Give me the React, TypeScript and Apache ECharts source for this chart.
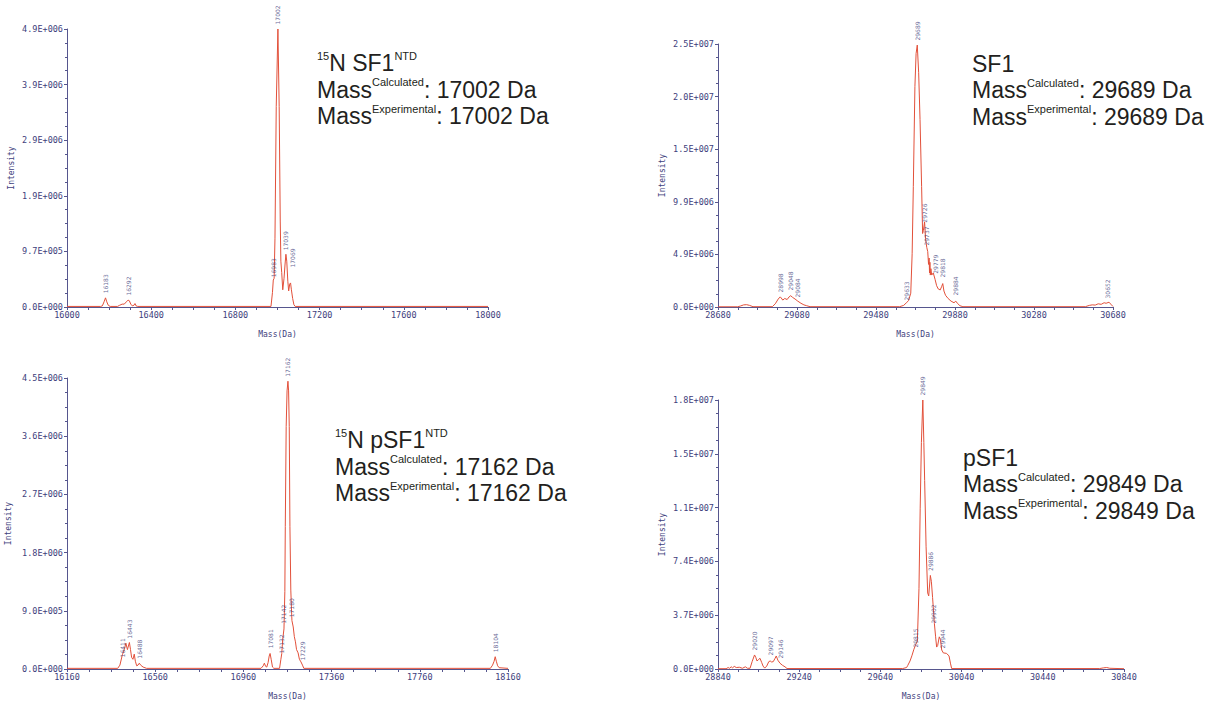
import React, { useEffect, useRef } from 'react';
import * as echarts from 'echarts';

// ---------- Panel 1: 15N SF1 NTD ----------
const p1Mass = [16000, 16160, 16168, 16176, 16183, 16189, 16196, 16205, 16240, 16250, 16262, 16272, 16282, 16290, 16296, 16303, 16310, 16318, 16323, 16328, 16336, 16969, 16976, 16980, 16984, 16988, 16994, 17002, 17008, 17013, 17016, 17020, 17025, 17031, 17036, 17040, 17044, 17049, 17053, 17058, 17062, 17066, 17072, 17078, 17084, 18000];
const p1IntM = [0.01, 0.01, 0.02, 0.09, 0.16, 0.09, 0.03, 0.01, 0.01, 0.03, 0.05, 0.05, 0.09, 0.12, 0.11, 0.05, 0.02, 0.03, 0.06, 0.02, 0.01, 0.01, 0.25, 0.47, 0.5, 1.2, 3.5, 4.85, 3.5, 1.5, 0.8, 0.6, 0.3, 0.5, 0.75, 0.92, 0.8, 0.45, 0.28, 0.4, 0.42, 0.3, 0.15, 0.04, 0.01, 0.01];
const p1LabelMass = [16183, 16292, 16983, 17002, 17039, 17069];
const p1LabelIntM = [0.16, 0.12, 0.44, 4.85, 0.91, 0.61];

// ---------- Panel 2: SF1 ----------
const p2Mass = [28680, 28780, 28795, 28810, 28825, 28840, 28857, 28955, 28970, 28985, 28995, 29000, 29008, 29018, 29030, 29040, 29048, 29058, 29070, 29084, 29100, 29115, 29129, 29146, 29600, 29620, 29633, 29645, 29656, 29663, 29669, 29677, 29683, 29689, 29696, 29703, 29711, 29716, 29720, 29726, 29731, 29737, 29742, 29746, 29749, 29751, 29753, 29755, 29758, 29762, 29770, 29779, 29787, 29795, 29805, 29812, 29818, 29824, 29832, 29845, 29860, 29875, 29884, 29892, 29905, 29920, 30540, 30560, 30575, 30590, 30605, 30620, 30635, 30645, 30660, 30672, 30680];
const p2IntM = [0.02, 0.02, 0.1, 0.2, 0.22, 0.15, 0.03, 0.03, 0.3, 0.75, 0.95, 0.85, 0.65, 0.8, 0.7, 0.95, 1.06, 0.9, 0.75, 0.55, 0.35, 0.2, 0.12, 0.03, 0.03, 0.15, 0.38, 0.6, 1.3, 5, 11.3, 20.7, 23.8, 24.6, 22, 17.6, 11.3, 6.9, 7.2, 8.0, 6.4, 5.6, 5.2, 4.0, 4.6, 3.2, 4.2, 3.0, 3.6, 3.0, 3.2, 2.6, 2.0, 1.7, 1.6, 1.9, 2.2, 1.5, 1.1, 0.8, 0.55, 0.4, 0.55, 0.35, 0.12, 0.03, 0.03, 0.15, 0.2, 0.18, 0.3, 0.25, 0.4, 0.35, 0.45, 0.2, 0.05];
const p2LabelMass = [28998, 29048, 29084, 29633, 29689, 29726, 29737, 29779, 29818, 29884, 30652];
const p2LabelIntM = [0.94, 1.13, 0.47, 0.19, 24.6, 7.5, 5.35, 2.7, 2.35, 0.66, 0.38];

// ---------- Panel 3: 15N pSF1 NTD ----------
const p3Mass = [16160, 16390, 16400, 16411, 16420, 16427, 16434, 16443, 16448, 16453, 16459, 16465, 16470, 16476, 16482, 16488, 16494, 16505, 16521, 17040, 17050, 17055, 17061, 17066, 17072, 17077, 17081, 17086, 17092, 17098, 17124, 17130, 17134, 17138, 17144, 17148, 17150, 17154, 17158, 17162, 17165, 17168, 17171, 17175, 17180, 17186, 17191, 17196, 17201, 17208, 17214, 17221, 17228, 17234, 18080, 18090, 18097, 18102, 18107, 18113, 18120, 18160];
const p3IntM = [0.01, 0.01, 0.06, 0.22, 0.3, 0.4, 0.3, 0.41, 0.3, 0.18, 0.15, 0.23, 0.12, 0.05, 0.06, 0.09, 0.06, 0.03, 0.01, 0.01, 0.05, 0.09, 0.04, 0.03, 0.1, 0.2, 0.24, 0.15, 0.03, 0.01, 0.01, 0.15, 0.24, 0.45, 0.62, 1.2, 2.2, 3.75, 4.3, 4.45, 4.3, 3.75, 2.2, 1.22, 0.75, 0.65, 0.5, 0.42, 0.3, 0.25, 0.15, 0.11, 0.06, 0.01, 0.01, 0.06, 0.12, 0.19, 0.12, 0.05, 0.02, 0.01];
const p3LabelMass = [16411, 16443, 16488, 17081, 17132, 17142, 17162, 17180, 17229, 18104];
const p3LabelIntM = [0.11, 0.4, 0.09, 0.25, 0.17, 0.63, 4.45, 0.73, 0.06, 0.19];

// ---------- Panel 4: pSF1 ----------
const p4Mass = [28840, 28880, 28890, 28897, 28905, 28912, 28920, 28930, 28945, 28960, 28975, 28985, 28998, 29008, 29020, 29026, 29032, 29040, 29047, 29055, 29062, 29070, 29080, 29090, 29097, 29104, 29112, 29120, 29127, 29135, 29145, 29158, 29170, 29180, 29750, 29769, 29775, 29786, 29795, 29805, 29815, 29822, 29830, 29836, 29842, 29849, 29854, 29858, 29865, 29873, 29878, 29886, 29891, 29897, 29906, 29912, 29917, 29922, 29930, 29936, 29942, 29950, 29965, 29978, 29985, 29991, 30720, 30740, 30755, 30770, 30840];
const p4IntM = [0.02, 0.02, 0.1, 0.05, 0.15, 0.08, 0.18, 0.1, 0.12, 0.05, 0.15, 0.05, 0.05, 0.5, 0.96, 0.8, 0.55, 0.65, 0.73, 0.45, 0.2, 0.06, 0.2, 0.5, 0.55, 0.48, 0.5, 0.7, 0.89, 0.6, 0.4, 0.25, 0.15, 0.03, 0.03, 0.1, 0.25, 0.55, 0.9, 1.35, 1.7, 1.9, 5.5, 11, 15.5, 18.4, 15.5, 12.9, 8.4, 5.2, 5.0, 6.4, 6.0, 4.9, 3.1, 2.2, 1.5, 1.6, 2.2, 2.0, 1.3, 1.1, 1.07, 0.9, 0.4, 0.03, 0.03, 0.08, 0.1, 0.05, 0.02];
const p4LabelMass = [29020, 29097, 29146, 29815, 29849, 29886, 29902, 29944];
const p4LabelIntM = [0.96, 0.62, 0.41, 1.16, 18.4, 6.4, 2.8, 1.1];

// ---------- Axes ----------
const xMins = [16000, 28680, 16160, 28840];
const xMaxs = [18000, 30680, 18160, 30840];
const xStep = 400;
const yMaxs = [4850000, 24700000, 4500000, 18400000];
const ySteps = [970000, 4940000, 900000, 3680000];

// ---------- Annotations ----------
const annTitlePre = ['15', '', '15', ''];
const annTitle = ['N SF1', 'SF1', 'N pSF1', 'pSF1'];
const annTitlePost = ['NTD', '', 'NTD', ''];
const annCalc = ['17002', '29689', '17162', '29849'];
const annExp = ['17002', '29689', '17162', '29849'];

const grids = [
  { left: 67, top: 29, width: 421, height: 278 },
  { left: 718, top: 44, width: 395, height: 263 },
  { left: 67, top: 378, width: 441, height: 291 },
  { left: 718, top: 400, width: 406, height: 269 },
];
const annPos = [
  { x: 317, y: 50 },
  { x: 972, y: 50.5 },
  { x: 335, y: 427 },
  { x: 963, y: 444.5 },
];

const LINE = '#e2503a';
const NAVY = '#3e3e7c';
const AXIS = '#56568e';

function sci(v: number): string {
  const s = v.toExponential(1);
  const [m, e] = s.split('e');
  const n = parseInt(e, 10);
  return m + 'E' + (n < 0 ? '-' : '+') + String(Math.abs(n)).padStart(3, '0');
}

const panels = [
  { mass: p1Mass, int: p1IntM, lm: p1LabelMass, li: p1LabelIntM },
  { mass: p2Mass, int: p2IntM, lm: p2LabelMass, li: p2LabelIntM },
  { mass: p3Mass, int: p3IntM, lm: p3LabelMass, li: p3LabelIntM },
  { mass: p4Mass, int: p4IntM, lm: p4LabelMass, li: p4LabelIntM },
];

export default function App() {
  const ref = useRef<HTMLDivElement>(null);
  useEffect(() => {
    if (!ref.current) return;
    const chart = echarts.init(ref.current, undefined, { renderer: 'svg' });
    const mono = 'DejaVu Sans Mono';
    const xAxis = grids.map((_, i) => ({
      type: 'value',
      gridIndex: i,
      min: xMins[i],
      max: xMaxs[i],
      interval: xStep,
      name: 'Mass(Da)',
      nameLocation: 'middle',
      nameGap: 23,
      nameTextStyle: { fontFamily: mono, fontSize: 8, color: NAVY },
      axisLine: { show: true, lineStyle: { color: AXIS, width: 1 } },
      axisTick: { show: true, length: 3, lineStyle: { color: AXIS } },
      minorTick: { show: true, splitNumber: 4, length: 3, lineStyle: { color: AXIS } },
      axisLabel: { fontFamily: mono, fontSize: 8.5, color: NAVY, margin: 3, formatter: (v: number) => String(v) },
      splitLine: { show: false },
    }));
    const yAxis = grids.map((_, i) => ({
      type: 'value',
      gridIndex: i,
      min: 0,
      max: yMaxs[i],
      interval: ySteps[i],
      name: 'Intensity',
      nameLocation: 'middle',
      nameGap: i === 2 ? 55 : 52,
      nameTextStyle: { fontFamily: mono, fontSize: 8, color: NAVY },
      axisLine: { show: true, lineStyle: { color: AXIS, width: 1 } },
      axisTick: { show: true, length: 3, lineStyle: { color: AXIS } },
      minorTick: { show: true, splitNumber: 4, length: 2, lineStyle: { color: AXIS } },
      axisLabel: { fontFamily: mono, fontSize: 8.5, color: NAVY, margin: 4, formatter: (v: number) => sci(v) },
      splitLine: { show: false },
    }));
    const series: any[] = [];
    panels.forEach((p, i) => {
      series.push({
        type: 'line',
        xAxisIndex: i,
        yAxisIndex: i,
        data: p.mass.map((m, k) => [m, p.int[k] * 1e6]),
        symbol: 'none',
        lineStyle: { color: LINE, width: 1 },
        silent: true,
        z: 3,
      });
      series.push({
        type: 'scatter',
        xAxisIndex: i,
        yAxisIndex: i,
        data: p.lm.map((m, k) => [m, p.li[k] * 1e6]),
        symbolSize: 1,
        itemStyle: { color: 'rgba(0,0,0,0)' },
        silent: true,
        label: {
          show: true,
          position: 'top',
          distance: 4,
          rotate: 90,
          align: 'left',
          verticalAlign: 'middle',
          fontFamily: 'DejaVu Sans',
          fontSize: 6,
          color: NAVY,
          formatter: (q: any) => String(q.value[0]),
        },
        z: 4,
      });
    });
    const graphic = annPos.map((pos, i) => {
      const l1 = (annTitlePre[i] ? '{sup|' + annTitlePre[i] + '}' : '') + '{main|' + annTitle[i] + '}' + (annTitlePost[i] ? '{sup|' + annTitlePost[i] + '}' : '');
      const l2 = '{main|Mass}{sup|Calculated}{main|: ' + annCalc[i] + ' Da}';
      const l3 = '{main|Mass}{sup|Experimental}{main|: ' + annExp[i] + ' Da}';
      return {
        type: 'text',
        x: pos.x,
        y: pos.y,
        silent: true,
        style: {
          text: l1 + '\n' + l2 + '\n' + l3,
          align: 'left',
          verticalAlign: 'top',
          fill: '#231f20',
          fontFamily: 'Liberation Sans',
          rich: {
            main: { fontSize: 23, lineHeight: 26.5, fontFamily: 'Liberation Sans', fill: '#231f20', verticalAlign: 'middle' },
            sup: { fontSize: 11, lineHeight: 12, fontFamily: 'Liberation Sans', fill: '#231f20', verticalAlign: 'top' },
          },
        },
      };
    });
    chart.setOption({
      animation: false,
      backgroundColor: '#ffffff',
      grid: grids.map((g) => ({ ...g, containLabel: false })),
      xAxis,
      yAxis,
      series,
      graphic,
    } as any);
    return () => chart.dispose();
  }, []);
  return <div ref={ref} style={{ position: 'absolute', left: 0, top: 0, width: 1215, height: 704 }} />;
}
